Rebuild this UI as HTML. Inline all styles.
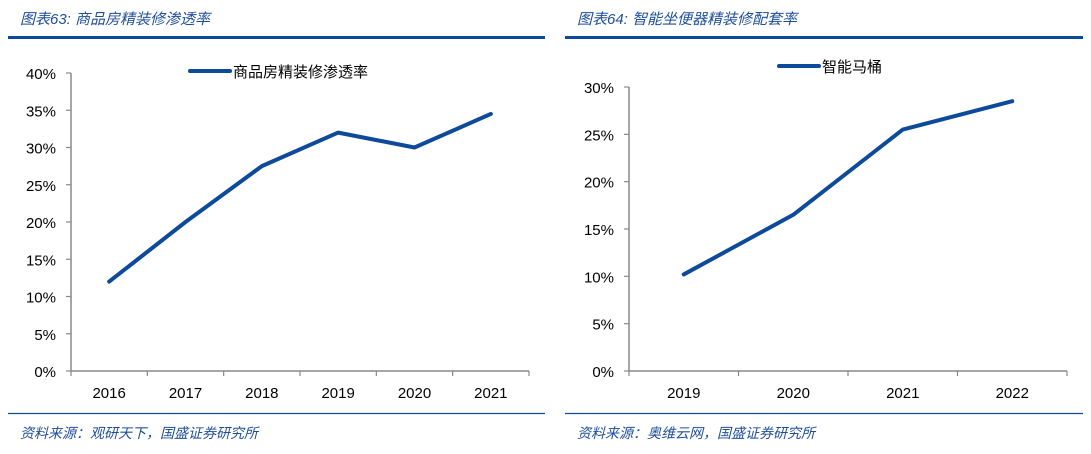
<!DOCTYPE html>
<html><head><meta charset="utf-8"><style>
body{margin:0;width:1091px;height:449px;background:#fff;overflow:hidden;font-family:"Liberation Sans","Noto Sans CJK SC",sans-serif}
svg text{font-family:"Liberation Sans","Noto Sans CJK SC",sans-serif}
</style></head><body>
<svg width="1091" height="449">
<g id="left"></g>
<g id="right"></g>
</svg>
<script>
const catsA=["2016","2017","2018","2019","2020","2021"];
const valsA=[12,20,27.5,32,30,34.5];
const ticksA=[0,5,10,15,20,25,30,35,40];
const catsB=["2019","2020","2021","2022"];
const valsB=[10.2,16.5,25.5,28.5];
const ticksB=[0,5,10,15,20,25,30];
const NS="http://www.w3.org/2000/svg";
function mk(p,t,a,txt){const e=document.createElementNS(NS,t);for(const k in a)e.setAttribute(k,a[k]);if(txt!=null)e.textContent=txt;p.appendChild(e);return e;}
function panel(g,o){
  let e=mk(g,'text',{x:o.x0+12,y:24,fill:'#1f4e9a','font-size':15,'font-style':'italic'},o.title);
  
  
  e=mk(g,'line',{x1:o.x0,x2:o.x1,y1:37.5,y2:37.5,stroke:'#0d4a9a','stroke-width':3});
  
  
  e=mk(g,'line',{x1:o.x0,x2:o.x1,y1:413.5,y2:413.5,stroke:'#0d4a9a','stroke-width':1.2});
  
  
  e=mk(g,'text',{x:o.x0+12,y:438,fill:'#1f4e9a','font-size':14,'font-style':'italic'},o.source);
  
  
  const y=v=>o.yb-(v/o.max)*(o.yb-o.yt);
  const bw=(o.px1-o.px0)/o.cats.length;
  const x=i=>o.px0+bw*(i+0.5);
  e=mk(g,'line',{x1:o.px0,x2:o.px0,y1:o.yt,y2:o.yb,stroke:'#888','stroke-width':1.5});
  
  
  e=mk(g,'line',{x1:o.px0,x2:o.px1,y1:o.yb,y2:o.yb,stroke:'#888','stroke-width':1.5});
  
  
  o.ticks.forEach(t=>{
    mk(g,'line',{x1:o.px0-5,x2:o.px0,y1:y(t),y2:y(t),stroke:'#888','stroke-width':1.2});
    const l=mk(g,'text',{x:o.px0-15,y:y(t)+6,'text-anchor':'end','font-size':15,fill:'#000'},t+'%');
    
    
  });
  for(let i=0;i<=o.cats.length;i++)mk(g,'line',{x1:o.px0+bw*i,x2:o.px0+bw*i,y1:o.yb,y2:o.yb+5,stroke:'#888','stroke-width':1.2});
  o.cats.forEach((c,i)=>{
    const l=mk(g,'text',{x:x(i),y:o.yb+27,'text-anchor':'middle','font-size':15,fill:'#000'},c);
    
    
  });
  e=mk(g,'polyline',{points:o.vals.map((v,i)=>x(i)+','+y(v)).join(' '),fill:'none',stroke:'#0d4a9a','stroke-width':4,'stroke-linejoin':'round','stroke-linecap':'round'});
  
  
  e=mk(g,'line',{x1:o.lx,x2:o.lx+40,y1:o.ly,y2:o.ly,stroke:'#0d4a9a','stroke-width':4,'stroke-linecap':'round'});
  
  
  e=mk(g,'text',{x:o.lx+43,y:o.ly+6,'font-size':15,fill:'#000'},o.legend);
  
  
}
panel(document.getElementById('left'),{x0:8,x1:545,title:'图表63:  商品房精装修渗透率',source:'资料来源：观研天下，国盛证券研究所',
  cats:catsA,vals:valsA,ticks:ticksA,max:40,px0:71,px1:529,yt:73,yb:371,lx:190,ly:71,legend:'商品房精装修渗透率'});
panel(document.getElementById('right'),{x0:565,x1:1083,title:'图表64:  智能坐便器精装修配套率',source:'资料来源：奥维云网，国盛证券研究所',
  cats:catsB,vals:valsB,ticks:ticksB,max:30,px0:629,px1:1067,yt:87,yb:371,lx:779,ly:66,legend:'智能马桶'});
</script>
</body></html>
